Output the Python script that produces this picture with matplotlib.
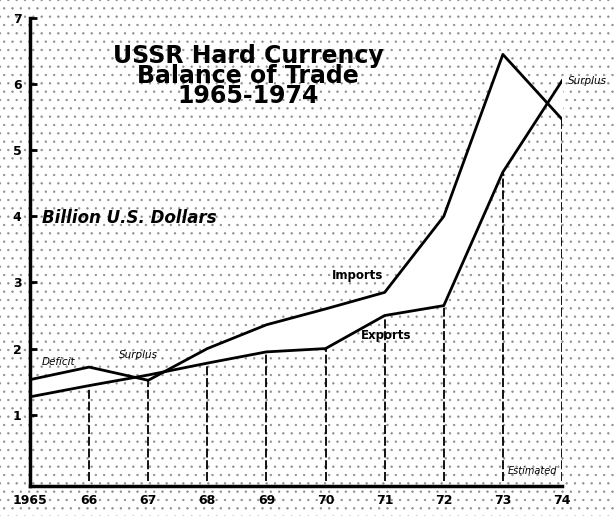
import numpy as np
import matplotlib
matplotlib.use("Agg")
import matplotlib.pyplot as plt
from matplotlib.patches import Rectangle

years = [1965, 1966, 1967, 1968, 1969, 1970, 1971, 1972, 1973, 1974]
year_labels = ["1965", "66", "67", "68", "69", "70", "71", "72", "73", "74"]
imports = [1.53, 1.72, 1.52, 2.0, 2.36, 2.6, 2.85, 4.0, 6.45, 5.47]
exports = [1.27, 1.44, 1.6, 1.78, 1.95, 2.0, 2.5, 2.65, 4.67, 6.05]
y_ticks = [1, 2, 3, 4, 5, 6, 7]

fig = plt.figure(figsize=(6.15, 5.16), dpi=100)
fig.patch.set_facecolor("white")

# speckled paper look (fine dot hatch)
plt.rcParams["hatch.linewidth"] = 0.45
bg = Rectangle((0, 0), 1, 1, transform=fig.transFigure, facecolor="white",
               edgecolor="#8c8c8c", hatch="..", linewidth=0, zorder=-10)
fig.patches.append(bg)

ax = fig.add_axes([0.0488, 0.058, 0.865, 0.907])
ax.patch.set_alpha(0)

x = np.array(years)
imp = np.array(imports)
exp_ = np.array(exports)

ax.fill_between(x, imp, exp_, color="white", zorder=1)
ax.plot(x, imp, color="black", lw=2.0, zorder=3)
ax.plot(x, exp_, color="black", lw=2.0, zorder=3)

lows = np.minimum(imp, exp_)
for xi, lo in zip(x[1:], lows[1:]):
    ax.plot([xi, xi], [0, lo], color="black", lw=1.3, ls=(0, (5, 1.5)), zorder=2)

ax.set_xlim(1965, 1974)
ax.set_ylim(-0.08, 7)
ax.set_xticks(years)
ax.set_xticklabels(year_labels, fontsize=9, fontweight="bold")
ax.set_yticks(y_ticks)
ax.set_yticklabels([str(t) for t in y_ticks], fontsize=9, fontweight="bold")
ax.tick_params(axis="y", direction="in", length=5, width=2, pad=6)
ax.tick_params(axis="x", length=0, pad=6)
for s in ["top", "right"]:
    ax.spines[s].set_visible(False)
ax.spines["left"].set_linewidth(2.5)
ax.spines["bottom"].set_linewidth(2.5)

ax.text(1968.69, 6.12, "USSR Hard Currency\nBalance of Trade\n1965-1974",
        ha="center", va="center", fontsize=17, fontweight="bold",
        linespacing=0.8)
ax.text(1965.2, 3.98, "Billion U.S. Dollars", fontsize=12, style="italic",
        fontweight="semibold", va="center")
ax.text(1965.2, 1.8, "Deficit", fontsize=7.5, style="italic", va="center")
ax.text(1966.5, 1.9, "Surplus", fontsize=7.5, style="italic", va="center")
ax.text(1970.1, 3.1, "Imports", fontsize=8.5, fontweight="semibold", va="center")
ax.text(1970.6, 2.2, "Exports", fontsize=8.5, fontweight="semibold", va="center")
ax.text(1974.1, 6.05, "Surplus", fontsize=7.5, style="italic", va="center")
ax.text(1973.08, 0.15, "Estimated", fontsize=7, style="italic", va="center")

fig.savefig("out.png", dpi=100)
